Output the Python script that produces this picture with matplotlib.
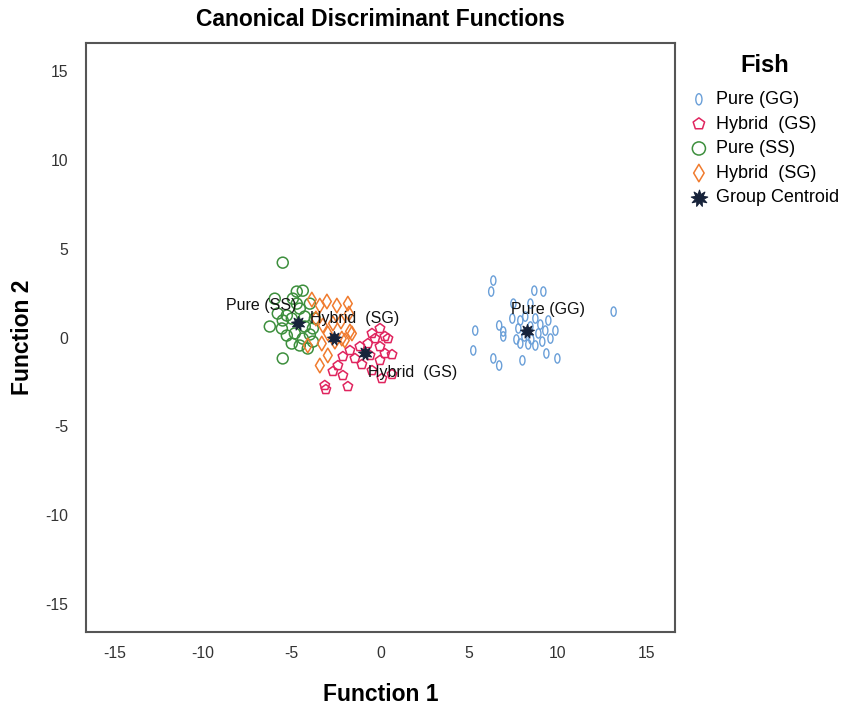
import matplotlib
matplotlib.use("Agg")
import matplotlib.pyplot as plt
import numpy as np
from matplotlib.path import Path
from matplotlib.transforms import Affine2D

plt.rcParams['font.family'] = ['Liberation Sans', 'DejaVu Sans']
plt.rcParams['axes.unicode_minus'] = False

# discriminant scores per group (function 1, function 2)
gg_f1 = [5.34, 5.23, 6.24, 6.36, 8.67, 9.18, 6.69, 6.92, 6.92, 6.36, 6.69, 8.00,
         9.35, 9.97, 9.86, 9.58, 13.14, 8.45, 7.49, 7.88, 8.16, 8.73, 9.01, 7.77,
         8.11, 8.50, 8.90, 9.29, 7.66, 8.33, 8.73, 7.88, 9.12, 8.45, 7.43, 9.46]
gg_f2 = [0.39, -0.73, 2.59, 3.21, 2.64, 2.59, 0.68, 0.34, 0.06, -1.18, -1.58, -1.29,
         -0.90, -1.18, 0.39, -0.06, 1.46, 1.91, 1.91, 0.96, 1.18, 1.07, 0.73, 0.51,
         0.06, -0.11, 0.23, 0.39, -0.11, -0.39, -0.45, -0.34, -0.23, 0.62, 1.07, 0.96]

gs_f1 = [-0.03, 0.42, -0.31, -0.71, -1.16, -1.72, -1.44, -2.12, -2.40, -2.68, -2.12,
         -3.14, -3.08, -1.84, -0.03, 0.25, -0.03, -0.59, 0.65, 0.08, 0.65, -0.48,
         -1.05, -0.48, 0.25]
gs_f2 = [0.51, -0.06, -0.06, -0.34, -0.51, -0.73, -1.18, -1.07, -1.58, -1.91, -2.14,
         -2.70, -2.93, -2.76, -0.51, -0.90, -1.29, -1.01, -0.96, -2.31, -2.08, -1.86,
         -1.52, 0.23, 0.06]

ss_f1 = [-5.51, -4.72, -4.38, -4.94, -5.28, -5.51, -6.24, -5.56, -5.28, -4.38, -4.55,
         -4.10, -3.81, -3.81, -3.70, -5.51, -5.79, -5.00, -4.27, -4.55, -3.98, -4.83,
         -4.27, -4.72, -5.96, -5.00, -3.98]
ss_f2 = [4.22, 2.59, 2.64, 2.19, 1.24, 0.96, 0.62, 0.51, 0.11, -0.06, -0.45, -0.62,
         -0.23, 0.51, 1.07, -1.18, 1.35, 1.07, 1.18, 1.63, 1.91, 0.23, 0.62, 1.91,
         2.19, -0.34, 0.17]

sg_f1 = [-3.87, -3.42, -3.02, -2.46, -1.84, -1.78, -3.25, -2.97, -2.57, -2.18, -1.72,
         -2.01, -3.31, -2.97, -3.42, -2.23, -4.10, -1.61, -3.64, -2.68]
sg_f2 = [2.14, 1.80, 2.03, 1.80, 1.91, 1.35, 0.68, 0.23, -0.23, -0.06, 0.34, -0.17,
         -0.34, -1.01, -1.58, 0.90, -0.45, 0.23, 1.07, 0.79]

centroid_names = ['Pure (GG)', 'Hybrid  (GS)', 'Pure (SS)', 'Hybrid  (SG)']
centroid_f1 = [8.28, -0.88, -4.66, -2.63]
centroid_f2 = [0.39, -0.90, 0.84, 0.00]

# narrow ellipse marker for the GG group
ellipse = Affine2D().scale(0.55, 1.0).transform_path(Path.unit_circle())

fig = plt.figure(figsize=(8.48, 7.11), dpi=100)
ax = fig.add_axes([0.1014, 0.1111, 0.6946, 0.8284])

ax.scatter(gg_f1, gg_f2, marker=ellipse, s=45, facecolors='none',
           edgecolors='#6a9fd8', linewidths=1.0, label='Pure (GG)', zorder=2)
ax.scatter(gs_f1, gs_f2, marker='p', s=52, facecolors='none',
           edgecolors='#e0245e', linewidths=1.1, label='Hybrid  (GS)', zorder=2)
ax.scatter(ss_f1, ss_f2, marker='o', s=62, facecolors='none',
           edgecolors='#3d8f3d', linewidths=1.1, label='Pure (SS)', zorder=2)
ax.scatter(sg_f1, sg_f2, marker='d', s=55, facecolors='none',
           edgecolors='#f07b2e', linewidths=1.1, label='Hybrid  (SG)', zorder=2)
ax.scatter(centroid_f1, centroid_f2, marker=(9, 1, 0), s=100, color='#17233a',
           edgecolors='#17233a', linewidths=0.8, label='Group Centroid', zorder=4)

label_offsets = {
    'Pure (GG)': ((-12, 15), 'left'),
    'Hybrid  (GS)': ((2, -14), 'left'),
    'Pure (SS)': ((-1, 12), 'right'),
    'Hybrid  (SG)': ((-17, 14), 'left'),
}
for name, x, y in zip(centroid_names, centroid_f1, centroid_f2):
    off, ha = label_offsets[name]
    ax.annotate(name, (x, y), xytext=off, textcoords='offset points',
                ha=ha, va='center', fontsize=11.5, color='#111111', zorder=5)

ax.set_xlim(-16.6, 16.6)
ax.set_ylim(-16.6, 16.6)
ticks = [-15, -10, -5, 0, 5, 10, 15]
ax.set_xticks(ticks)
ax.set_yticks(ticks)
ax.tick_params(axis='both', length=0, labelsize=11.3, labelcolor='#333333')
ax.tick_params(axis='x', pad=10)
ax.tick_params(axis='y', pad=13)
for sp in ax.spines.values():
    sp.set_color('#555555')
    sp.set_linewidth(1.5)

ax.set_title('Canonical Discriminant Functions', fontsize=16.5,
             fontweight='bold', pad=12)
ax.set_xlabel('Function 1', fontsize=16.5, fontweight='bold', labelpad=16)
ax.set_ylabel('Function 2', fontsize=16.5, fontweight='bold', labelpad=8)

leg = fig.legend(loc='upper left', bbox_to_anchor=(0.805, 0.934), frameon=False,
                 title='Fish', fontsize=13, handletextpad=0.45, markerscale=1.2,
                 borderaxespad=0, labelspacing=0.42, handlelength=1.0)
leg.get_title().set_fontweight('bold')
leg.get_title().set_fontsize(17)
leg._legend_box.align = 'center'
leg._legend_box.sep = 10

fig.savefig('out.png', dpi=100, facecolor='white')
